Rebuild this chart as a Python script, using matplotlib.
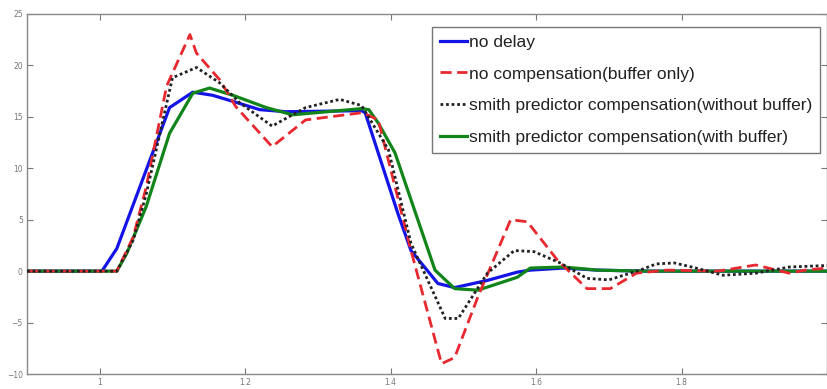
import matplotlib
matplotlib.use("Agg")
import matplotlib.pyplot as plt

# ---- data ----
t_nodelay = [0.9, 1.003, 1.0235, 1.096, 1.128, 1.155, 1.188, 1.22, 1.256, 1.36, 1.365,
             1.41, 1.428, 1.465, 1.488, 1.533, 1.574, 1.592, 1.638, 1.684, 1.75, 2.0]
y_nodelay = [0, 0, 2.2, 15.9, 17.4, 17.1, 16.4, 15.7, 15.5, 15.6, 15.4,
             5.6, 2.0, -1.2, -1.6, -0.9, -0.1, 0.1, 0.3, 0.1, 0.0, 0.0]

t_nocomp = [0.9, 1.0235, 1.046, 1.064, 1.092, 1.124, 1.133, 1.165, 1.187, 1.237, 1.283,
            1.36, 1.365, 1.383, 1.428, 1.47, 1.488, 1.52, 1.565, 1.588, 1.629, 1.67,
            1.702, 1.738, 1.78, 1.85, 1.902, 1.948, 1.97, 2.0]
y_nocomp = [0, 0, 3.3, 8.2, 18.0, 23.0, 21.2, 18.6, 16.0, 12.1, 14.7,
            15.4, 15.3, 14.7, 2.0, -9.0, -8.4, -2.5, 5.0, 4.8, 1.1, -1.7,
            -1.7, -0.2, 0.1, 0.0, 0.6, -0.2, 0.1, 0.3]

t_smith_nobuf = [0.9, 1.0235, 1.046, 1.064, 1.1, 1.133, 1.165, 1.192, 1.237, 1.283, 1.33,
                 1.36, 1.397, 1.428, 1.475, 1.493, 1.533, 1.57, 1.597, 1.633, 1.67, 1.70,
                 1.743, 1.765, 1.79, 1.82, 1.857, 1.902, 1.948, 2.0]
y_smith_nobuf = [0, 0, 3.0, 7.5, 18.8, 19.8, 18.3, 16.4, 14.1, 15.9, 16.7,
                 16.1, 11.8, 2.7, -4.6, -4.6, -0.2, 2.0, 1.9, 0.8, -0.7, -0.85,
                 0.1, 0.7, 0.8, 0.3, -0.4, -0.2, 0.4, 0.55]

t_smith_buf = [0.9, 1.0235, 1.037, 1.064, 1.096, 1.128, 1.151, 1.183, 1.229, 1.265, 1.36,
               1.37, 1.383, 1.406, 1.461, 1.488, 1.52, 1.574, 1.592, 1.638, 1.684, 1.75, 2.0]
y_smith_buf = [0, 0, 1.7, 6.3, 13.4, 17.3, 17.8, 17.1, 15.9, 15.2, 15.8,
               15.7, 14.4, 11.5, 0.1, -1.7, -1.85, -0.6, 0.3, 0.4, 0.1, 0.0, 0.0]

labels = ["no delay", "no compensation(buffer only)",
          "smith predictor compensation(without buffer)",
          "smith predictor compensation(with buffer)"]
x_ticks = [1, 1.2, 1.4, 1.6, 1.8, 2.0]
x_ticklabels = ["1", "1.2", "1.4", "1.6", "1.8", ""]
y_ticks = [-10, -5, 0, 5, 10, 15, 20, 25]

# ---- figure ----
fig = plt.figure(figsize=(8.27, 3.89), dpi=100)
ax = fig.add_axes([27 / 827, 1 - 374 / 389, 800 / 827, 360 / 389])

ax.plot(t_nodelay, y_nodelay, color="#1414e6", lw=2.3, label=labels[0], zorder=3)
ax.plot(t_nocomp, y_nocomp, color="#e8282e", lw=2.0, ls=(0, (4, 2)), label=labels[1], zorder=4)
ax.plot(t_smith_nobuf, y_smith_nobuf, color="#222222", lw=2.0, ls=(0, (1, 1)), label=labels[2], zorder=5)
ax.plot(t_smith_buf, y_smith_buf, color="#12851a", lw=2.3, label=labels[3], zorder=3)

ax.set_xlim(0.9, 2.0)
ax.set_ylim(-10, 25)
ax.set_xticks(x_ticks)
ax.set_xticklabels(x_ticklabels)
ax.set_yticks(y_ticks)
ax.tick_params(direction="in", top=True, right=True, length=4, width=0.8,
               labelsize=5.5, colors="#777777", pad=3)
for s in ax.spines.values():
    s.set_color("#888888")
    s.set_linewidth(1.0)

leg = ax.legend(loc="upper right", bbox_to_anchor=(0.991, 0.964),
                prop={"family": "Liberation Sans", "size": 12.5},
                handlelength=1.55, handletextpad=0.1, labelspacing=0.95,
                borderpad=0.45, borderaxespad=0.0, frameon=True, fancybox=False)
leg.get_frame().set_edgecolor("#777777")
leg.get_frame().set_linewidth(1.0)
leg.get_frame().set_alpha(1.0)
for txt in leg.get_texts():
    txt.set_color("#222222")

fig.savefig("out.png", dpi=100)
